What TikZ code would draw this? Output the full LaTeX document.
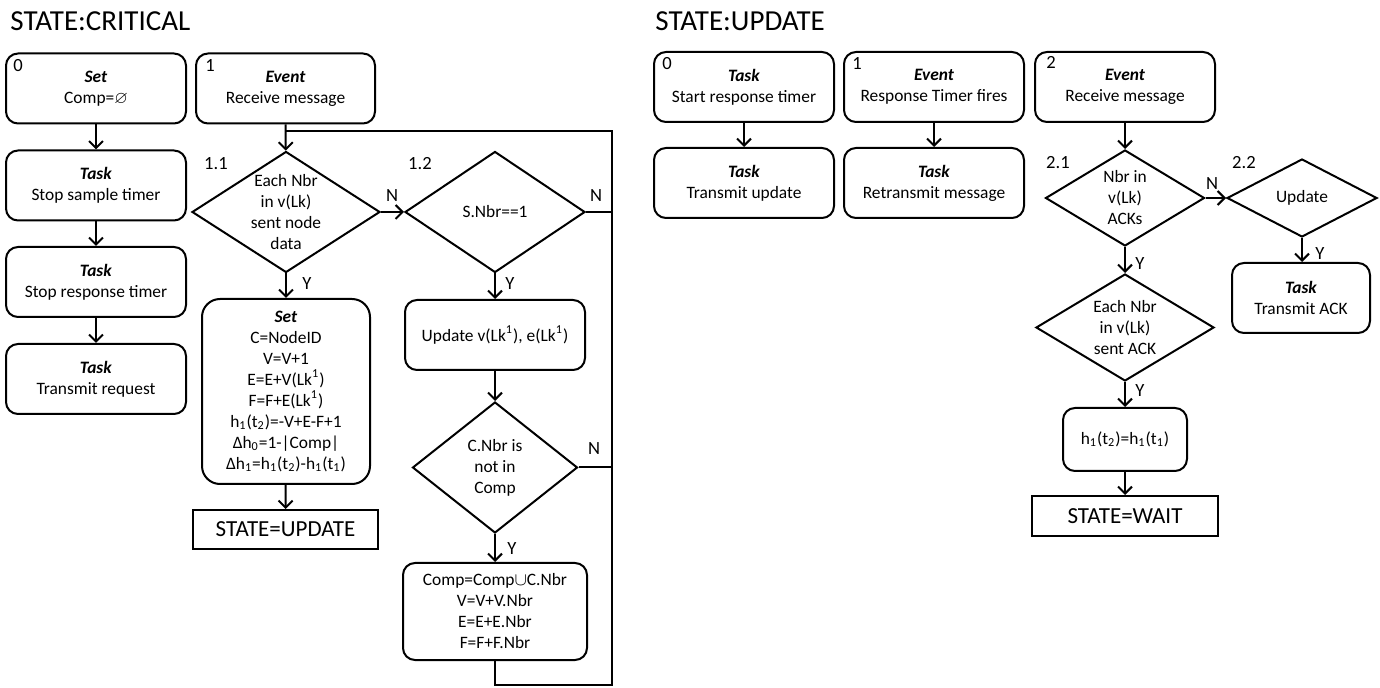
\documentclass[tikz,border=0pt]{standalone}
\usepackage{amssymb}
\usepackage{fontspec}
\setmainfont{Carlito}
\usetikzlibrary{shapes.geometric,arrows.meta}

\newcommand{\kind}[1]{\textbf{\textit{#1}}\\}

\tikzset{
  box/.style={draw, line width=1pt, rounded corners=6pt, align=center, inner sep=0pt,
              minimum width=90pt, minimum height=35pt},
  dec/.style={draw, diamond, line width=1pt, align=center, inner sep=-6pt},
  stbox/.style={draw, line width=1pt, inner sep=0pt, font=\fontsize{11.5}{13}\selectfont},
  title/.style={anchor=west, inner sep=0pt, font=\fontsize{14.5}{16}\selectfont},
  num/.style={inner sep=0pt, font=\fontsize{9.3}{10}\selectfont},
  ln/.style={line width=1pt},
  arr/.style={line width=1pt, -{Straight Barb[length=3.5pt,width=7pt]}}
}

\begin{document}
\begin{tikzpicture}[x=0.5pt, y=-0.5pt, font=\fontsize{8.7}{10.5}\selectfont]
    \useasboundingbox (0,0) rectangle (1380,688);

    % STATE:CRITICAL
    \node[title] (tc) at (10,21) {STATE:CRITICAL};

    \node[box] (c0) at (96,88.5) {\kind{Set}Comp=$\varnothing$};
    \node[box] (c1) at (96,185.5) {\kind{Task}Stop sample timer};
    \node[box] (c2) at (96,282) {\kind{Task}Stop response timer};
    \node[box] (c3) at (96,379) {\kind{Task}Transmit request};
    \node[num] (n0) at (18,66) {0};

    \draw[arr] (c0) -- (c1);
    \draw[arr] (c1) -- (c2);
    \draw[arr] (c2) -- (c3);

    \node[box, minimum width=89.5pt] (e1) at (285.5,88.5) {\kind{Event}Receive message};
    \node[num] (n1) at (210,66) {1};

    \node[dec, minimum width=94pt, minimum height=60.5pt] (d11) at (286,212)
        {Each Nbr\\in v(Lk)\\sent node\\data};
    \node[num] (n11) at (216,164) {1.1};
    \node[dec, minimum width=90pt, minimum height=60.5pt] (d12) at (495,212) {S.Nbr==1};
    \node[num] (n12) at (420,164) {1.2};

    \node[box, rounded corners=9pt, minimum width=84pt, minimum height=92.5pt] (s11) at (286,391.5)
        {\kind{Set}C=NodeID\\V=V+1\\E=E+V(Lk\textsuperscript{1})\\F=F+E(Lk\textsuperscript{1})\\
         h\textsubscript{1}(t\textsubscript{2})=-V+E-F+1\\
         Δh\textsubscript{0}=1-|Comp|\\
         Δh\textsubscript{1}=h\textsubscript{1}(t\textsubscript{2})-h\textsubscript{1}(t\textsubscript{1})};
    \node[stbox, minimum width=92.5pt, minimum height=19.5pt] (su) at (285.5,529.5) {STATE=UPDATE};

    \node[box] (u12) at (495,335) {Update v(Lk\textsuperscript{1}), e(Lk\textsuperscript{1})};
    \node[dec, minimum width=82.5pt, minimum height=65.5pt] (d13) at (495,467.5)
        {C.Nbr is\\not in\\Comp};
    \node[box, minimum width=92pt, minimum height=48.5pt] (cmp) at (495,611.5)
        {Comp=Comp$\cup$C.Nbr\\V=V+V.Nbr\\E=E+E.Nbr\\F=F+F.Nbr};

    \node[num] (y11) at (307,284) {Y};
    \node[num] (y12) at (510,284) {Y};
    \node[num] (y13) at (512,549) {Y};
    \node[num] (m11) at (392,196) {N};
    \node[num] (m12) at (596,196) {N};
    \node[num] (m13) at (594,449) {N};

    \coordinate (jn) at (286,131);
    \coordinate (lpT) at (612,131);
    \coordinate (lpB) at (612,685);

    \draw[arr] (e1) -- (d11);
    \draw[arr] (d11) -- (s11);
    \draw[arr] (s11) -- (su);
    \draw[arr] (d11.east) -- (d12.west);
    \draw[arr] (d12) -- (u12);
    \draw[arr] (u12) -- (d13);
    \draw[arr] (d13) -- (cmp);
    % loop back to 1.1
    \draw[ln] (cmp.south) |- (lpB) -- (lpT) -- (jn);
    \draw[ln] (d12.east) -- (d12.east -| lpT);
    \draw[ln] (d13.east) -- (d13.east -| lpT);

    % STATE:UPDATE
    \node[title] (tu) at (655,21) {STATE:UPDATE};

    \node[box] (r0) at (744,87) {\kind{Task}Start response timer};
    \node[box] (r0b) at (744,183) {\kind{Task}Transmit update};
    \node[box] (r1) at (934,87) {\kind{Event}Response Timer fires};
    \node[box] (r1b) at (934,183) {\kind{Task}Retransmit message};
    \node[box] (r2) at (1125,87) {\kind{Event}Receive message};
    \node[num] (p0) at (667,64) {0};
    \node[num] (p1) at (857,64) {1};
    \node[num] (p2) at (1051,62) {2};

    \node[dec, minimum width=79.5pt, minimum height=48pt] (d21) at (1125,198)
        {Nbr in\\v(Lk)\\ACKs};
    \node[num] (n21) at (1058,163) {2.1};
    \node[dec, minimum width=75pt, minimum height=39pt] (d22) at (1302,198) {Update};
    \node[num] (n22) at (1244,163) {2.2};
    \node[box, minimum width=69pt] (ack) at (1301,298) {\kind{Task}Transmit ACK};
    \node[dec, minimum width=89pt, minimum height=53.5pt] (d23) at (1125,327.5)
        {Each Nbr\\in v(Lk)\\sent ACK};
    \node[box, minimum width=62pt, minimum height=31.5pt] (hb) at (1125,439.5)
        {h\textsubscript{1}(t\textsubscript{2})=h\textsubscript{1}(t\textsubscript{1})};
    \node[stbox, minimum width=93pt, minimum height=20pt] (wt) at (1125,516) {STATE=WAIT};

    \node[num] (m21) at (1212,184) {N};
    \node[num] (y21) at (1140,264) {Y};
    \node[num] (y22) at (1320,254) {Y};
    \node[num] (y23) at (1140,391) {Y};

    \draw[arr] (r0) -- (r0b);
    \draw[arr] (r1) -- (r1b);
    \draw[arr] (r2) -- (d21);
    \draw[arr] (d21.east) -- (d22.west);
    \draw[arr] (d22.south) -- (d22.south |- ack.north);
    \draw[arr] (d21) -- (d23);
    \draw[arr] (d23) -- (hb);
    \draw[arr] (hb) -- (wt);
\end{tikzpicture}
\end{document}
